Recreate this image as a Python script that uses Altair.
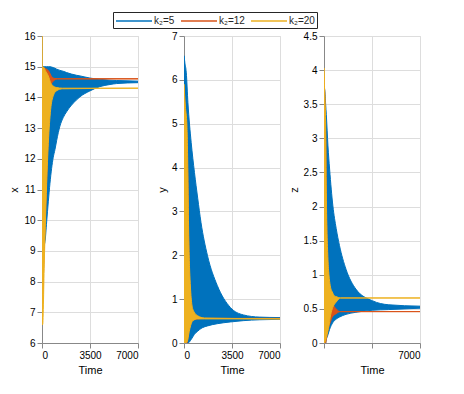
import altair as alt
import pandas as pd

series_names = ["k₂=5", "k₂=12", "k₂=20"]
series_colors = ["#0072BD", "#D95319", "#EDB120"]

x_ticks = [0, 3500, 7000]

# ---------- panel x ----------
x_ticks_x = [6, 7, 8, 9, 10, 11, 12, 13, 14, 15, 16]
x_k5_t = [0, 150, 218, 340, 460, 580, 820, 945, 1070, 1310, 1555, 1790, 2520, 2770, 3490, 4210, 4960, 5425, 7000]
x_k5_hi = [15.0, 15.0, 15.0, 15.0, 15.0, 15.0, 14.97, 14.95, 14.92, 14.88, 14.85, 14.81, 14.72, 14.70, 14.63, 14.59, 14.56, 14.55, 14.53]
x_k5_lo = [9.2, 9.2, 9.3, 9.95, 10.6, 11.2, 12.05, 12.3, 12.6, 13.07, 13.35, 13.53, 13.92, 14.02, 14.21, 14.35, 14.42, 14.45, 14.48]
x_k12_t = [0, 200, 500, 700, 900, 1100, 7000]
x_k12_hi = [15.0, 14.95, 14.85, 14.68, 14.62, 14.61, 14.61]
x_k12_lo = [6.7, 9.5, 13.2, 14.45, 14.56, 14.60, 14.60]
x_k20_t = [0, 10, 50, 170, 220, 240, 340, 460, 630, 820, 1070, 1500, 7000]
x_k20_hi = [16.0, 15.0, 15.0, 14.95, 14.9, 14.88, 14.8, 14.7, 14.48, 14.37, 14.32, 14.30, 14.30]
x_k20_lo = [16.0, 6.6, 6.6, 8.7, 9.5, 9.8, 11.2, 12.5, 13.6, 14.05, 14.22, 14.28, 14.30]

# ---------- panel y ----------
y_ticks_y = [0, 1, 2, 3, 4, 5, 6, 7]
y_k5_t = [0, 60, 167, 286, 524, 762, 1000, 1238, 1714, 2429, 3381, 4333, 5524, 7000]
y_k5_hi = [6.55, 6.4, 6.16, 5.48, 4.57, 3.89, 3.3, 2.75, 1.99, 1.31, 0.81, 0.64, 0.59, 0.58]
y_k5_lo = [0, 0, 0, 0, 0.08, 0.2, 0.27, 0.33, 0.39, 0.44, 0.48, 0.51, 0.53, 0.54]
y_k12_t = [0, 100, 214, 286, 333, 429, 643, 1000, 1500, 7000]
y_k12_hi = [5.8, 5.2, 4.6, 3.5, 2.4, 1.3, 0.7, 0.6, 0.56, 0.56]
y_k12_lo = [0, 0, 0, 0.15, 0.25, 0.38, 0.53, 0.55, 0.56, 0.56]
y_k20_t = [0, 100, 214, 286, 333, 429, 643, 1000, 1500, 7000]
y_k20_hi = [5.9, 5.4, 4.95, 3.81, 2.67, 1.53, 0.77, 0.62, 0.57, 0.55]
y_k20_lo = [0, 0, 0.02, 0.09, 0.18, 0.33, 0.51, 0.55, 0.55, 0.55]

# ---------- panel z ----------
z_ticks_y = [0, 0.5, 1, 1.5, 2, 2.5, 3, 3.5, 4, 4.5]
z_k5_t = [0, 60, 120, 168, 288, 408, 647, 887, 1127, 1606, 2325, 3524, 4723, 7000]
z_k5_hi = [3.75, 3.7, 3.5, 3.35, 2.89, 2.55, 2.01, 1.68, 1.43, 1.08, 0.79, 0.62, 0.56, 0.54]
z_k5_lo = [0, 0, 0, 0.05, 0.12, 0.2, 0.3, 0.35, 0.38, 0.42, 0.45, 0.48, 0.49, 0.51]
z_k12_t = [0, 120, 168, 288, 455, 600, 887, 1200, 7000]
z_k12_hi = [3.9, 3.0, 2.0, 1.1, 0.75, 0.6, 0.5, 0.46, 0.46]
z_k12_lo = [0, 0, 0.05, 0.2, 0.3, 0.38, 0.43, 0.46, 0.46]
z_k20_t = [0, 30, 120, 168, 288, 360, 455, 600, 767, 887, 1200, 7000]
z_k20_hi = [4.03, 3.8, 3.18, 2.21, 1.23, 1.0, 0.84, 0.75, 0.69, 0.68, 0.66, 0.66]
z_k20_lo = [0, 0, 0.04, 0.08, 0.18, 0.25, 0.38, 0.5, 0.57, 0.6, 0.66, 0.66]


def frame(name, t, lo, hi):
    return pd.DataFrame({"series": name, "t": t, "lo": lo, "hi": hi})


panels = {
    "x": (x_ticks_x, [6, 16], [(x_k5_t, x_k5_lo, x_k5_hi), (x_k12_t, x_k12_lo, x_k12_hi), (x_k20_t, x_k20_lo, x_k20_hi)]),
    "y": (y_ticks_y, [0, 7], [(y_k5_t, y_k5_lo, y_k5_hi), (y_k12_t, y_k12_lo, y_k12_hi), (y_k20_t, y_k20_lo, y_k20_hi)]),
    "z": (z_ticks_y, [0, 4.5], [(z_k5_t, z_k5_lo, z_k5_hi), (z_k12_t, z_k12_lo, z_k12_hi), (z_k20_t, z_k20_lo, z_k20_hi)]),
}

color_scale = alt.Scale(domain=series_names, range=series_colors)
shared_legend = alt.Legend(title=None, orient="none", direction="horizontal",
                           legendX=71, legendY=-24,
                           symbolType="M-1,0H5", symbolSize=144, symbolStrokeWidth=1.5,
                           labelFontSize=10, labelColor="#262626", labelFont="Liberation Sans",
                           columnPadding=3, labelOffset=25,
                           strokeColor="#262626", padding=2,
                           fillColor="white")

charts = []
for idx, (pname, (yt, ydom, series)) in enumerate(panels.items()):
    layers = []
    for si, (name, (t, lo, hi)) in enumerate(zip(series_names, series)):
        df = frame(name, t, lo, hi)
        if pname == "z":
            x_axis = alt.Axis(values=x_ticks, title="Time", grid=True, format="d",
                              titleFontWeight="normal",
                              labelExpr="datum.value == 7000 ? datum.label : ''")
        else:
            x_axis = alt.Axis(values=x_ticks, title="Time", grid=True, format="d",
                              titleFontWeight="normal")
        layer = alt.Chart(df).mark_area(strokeWidth=1, clip=True, interpolate="monotone",
                                        fill=series_colors[si]).encode(
            x=alt.X("t:Q", scale=alt.Scale(domain=[0, 7000], nice=False), axis=x_axis),
            y=alt.Y("hi:Q", scale=alt.Scale(domain=ydom, nice=False, zero=False),
                    axis=alt.Axis(values=yt, title=pname, format="~g", titleAngle=-90,
                                  titleFontWeight="normal")),
            y2="lo:Q",
            stroke=alt.Stroke("series:N", scale=color_scale, legend=shared_legend),
        )
        layers.append(layer)
    charts.append(alt.layer(*layers).properties(width=96, height=307))

left_pair = alt.hconcat(charts[0], charts[1], spacing=16)
chart = alt.hconcat(left_pair, charts[2], spacing=6).configure_view(
    stroke="#666666", strokeWidth=1
).configure_axis(
    labelFont="Liberation Sans", titleFont="Liberation Sans",
    labelFontSize=10, titleFontSize=11, labelColor="#262626", titleColor="#262626",
    titleFontWeight="normal", domainColor="#262626", gridColor="#e3e3e3",
    ticks=False, labelPadding=3, titlePadding=1
).configure(
    padding={"left": 0, "top": 3, "right": 5, "bottom": 5}
)

chart.save("out.html", embed_options={"renderer": "svg", "actions": False})
